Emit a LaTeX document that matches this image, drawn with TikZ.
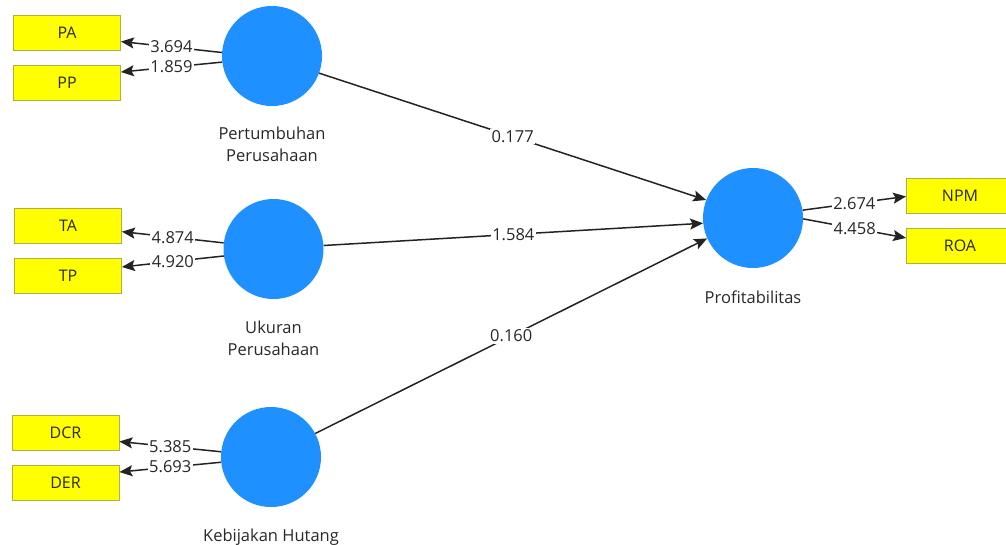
\documentclass[tikz,border=0pt]{standalone}
\usepackage{fontspec}
\setmainfont{Open Sans}
\usetikzlibrary{arrows.meta}
\definecolor{lvblue}{RGB}{30,144,255}
\definecolor{indyellow}{RGB}{255,255,0}
\definecolor{indborder}{RGB}{175,175,70}
\definecolor{txtgray}{RGB}{40,40,40}
\definecolor{linegray}{RGB}{35,35,35}
\tikzset{
  latent/.style={circle, fill=lvblue, minimum size=100pt, inner sep=0pt},
  indbox/.style={rectangle, fill=indyellow, draw=indborder, line width=0.8pt,
     minimum width=107pt, minimum height=35pt, inner sep=0pt, text=txtgray,
     font=\fontsize{16}{18}\selectfont},
  lvlabel/.style={text=txtgray, align=center, font=\fontsize{16.5}{22}\selectfont, inner sep=0pt},
  conn/.style={draw=linegray, line width=1.5pt, -{Stealth[length=13pt,width=11pt,inset=2.5pt]}},
  coef/.style={fill=white, text=txtgray, inner sep=1.5pt, font=\fontsize{16.5}{18}\selectfont, pos=0.5}
}
\begin{document}
\begin{tikzpicture}[x=1pt,y=-1pt]
\useasboundingbox (0,0) rectangle (1006,544);
\clip (0,0) rectangle (1006,544);
% latent variables
\node[latent] (PG) at (272,56) {};
\node[latent] (UP) at (273.5,249) {};
\node[latent] (KH) at (271,457) {};
\node[latent] (PR) at (753,218) {};
% labels
\node[lvlabel] (PGl) at (272,144) {Pertumbuhan\\Perusahaan};
\node[lvlabel] (UPl) at (273.5,338) {Ukuran\\Perusahaan};
\node[lvlabel] (KHl) at (271,537) {Kebijakan Hutang};
\node[lvlabel] (PRl) at (753,297) {Profitabilitas};
% indicators
\node[indbox] (PA) at (67,33) {PA};
\node[indbox] (PP) at (67,82.5) {PP};
\node[indbox] (TA) at (68,226) {TA};
\node[indbox] (TP) at (68,275.5) {TP};
\node[indbox] (DCR) at (65.5,433) {DCR};
\node[indbox] (DER) at (65.5,482.5) {DER};
\node[indbox] (NPM) at (960,195.5) {NPM};
\node[indbox] (ROA) at (960,245.5) {ROA};
% outer loadings
\draw[conn] (PG.176) -- node[coef] {3.694} (PA.-9.5);
\draw[conn] (PG.187) -- node[coef] {1.859} (PP.11);
\draw[conn] (UP.173) -- node[coef] {4.874} (TA.-6.3);
\draw[conn] (UP.188) -- node[coef] {4.920} (TP.9);
\draw[conn] (KH.174) -- node[coef] {5.385} (DCR.-9.5);
\draw[conn] (KH.186) -- node[coef] {5.693} (DER.11);
\draw[conn] (PR.9) -- node[coef] {2.674} (NPM.181.6);
\draw[conn] (PR.-1) -- node[coef] {4.458} (ROA.172);
% inner paths
\draw[conn] (PG.-20.8) -- node[coef] {0.177} (PR.159.4);
\draw[conn] (UP.4.5) -- node[coef] {1.584} (PR.186);
\draw[conn] (KH.28) -- node[coef] {0.160} (PR.204.6);
\end{tikzpicture}
\end{document}
